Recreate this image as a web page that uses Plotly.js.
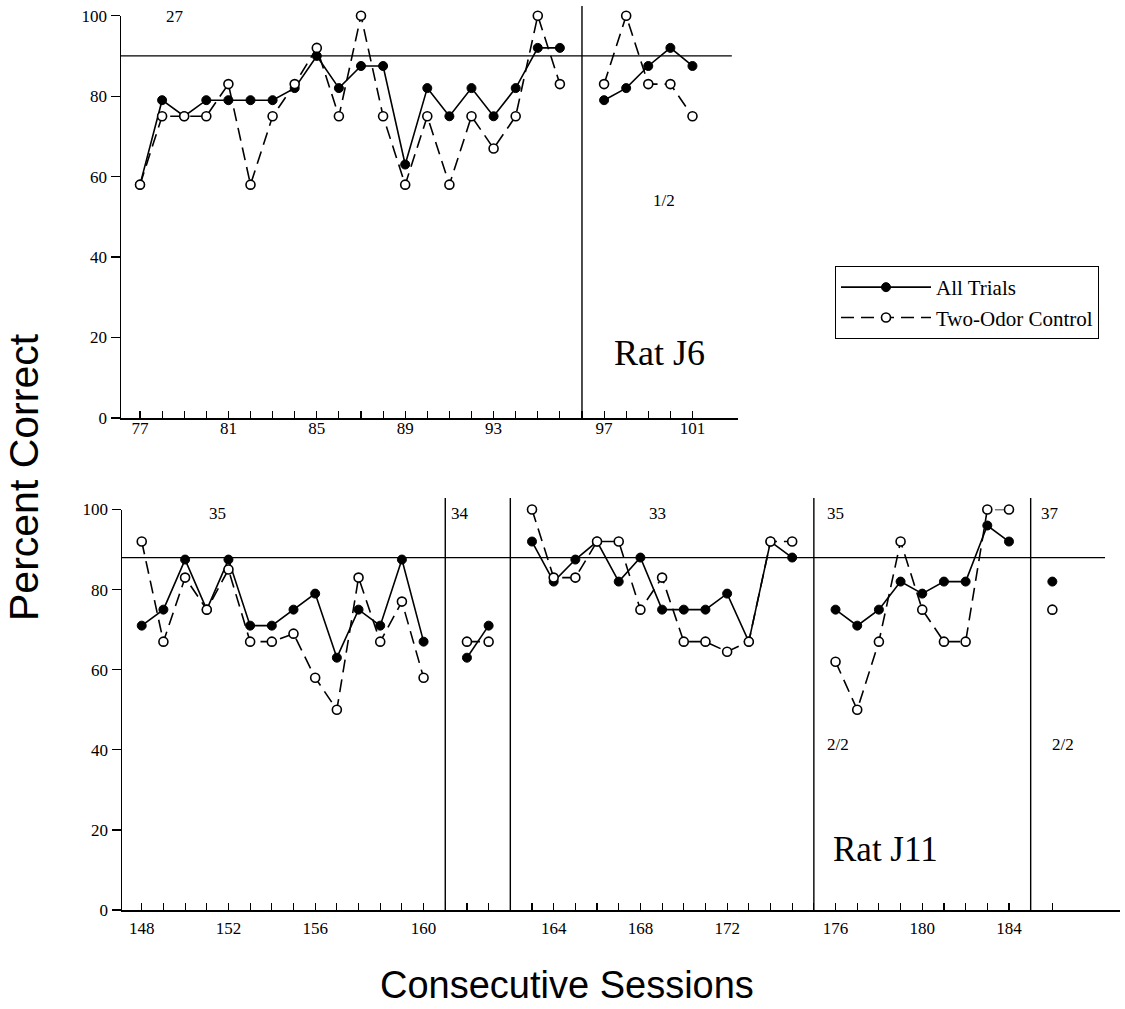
<!DOCTYPE html>
<html>
<head>
<meta charset="utf-8">
<script src="https://cdn.plot.ly/plotly-3.0.1.min.js"></script>
<style>
html,body{margin:0;padding:0;background:#fff;}
#chart{width:1125px;height:1009px;}
</style>
</head>
<body>
<div id="chart"></div>
<script>
// ---------------- Rat J6 (top panel) ----------------
const j6PosA  = [77,78,79,80,81,82,83,84,85,86,87,88,89,90,91,92,93,94,95,96];
const j6AllA  = [58,79,75,79,79,79,79,82,90,82,87.5,87.5,63,82,75,82,75,82,92,92];
const j6CtrlA = [58,75,75,75,83,58,75,83,92,75,100,75,58,75,58,75,67,75,100,83];
const j6PosB  = [98,99,100,101,102];
const j6AllB  = [79,82,87.5,92,87.5];
const j6CtrlB = [83,100,83,83,75];
const j6LabelPos  = [77,81,85,89,93,98,102];
const j6LabelText = ['77','81','85','89','93','97','101'];
const j6Criterion = 90;
const j6Dividers = [97];

// ---------------- Rat J11 (bottom panel) ----------------
const j11PosA  = [148,149,150,151,152,153,154,155,156,157,158,159,160,161];
const j11AllA  = [71,75,87.5,75,87.5,71,71,75,79,63,75,71,87.5,67];
const j11CtrlA = [92,67,83,75,85,67,67,69,58,50,83,67,77,58];
const j11PosB  = [163,164];
const j11AllB  = [63,71];
const j11CtrlB = [67,67];
const j11PosC  = [166,167,168,169,170,171,172,173,174,175,176,177,178];
const j11AllC  = [92,82,87.5,92,82,88,75,75,75,79,67,92,88];
const j11CtrlC = [100,83,83,92,92,75,83,67,67,64.5,67,92,92];
const j11PosD  = [180,181,182,183,184,185,186,187,188];
const j11AllD  = [75,71,75,82,79,82,82,96,92];
const j11CtrlD = [62,50,67,92,75,67,67,100,100];
const j11PosE  = [190];
const j11AllE  = [82];
const j11CtrlE = [75];
const j11LabelPos  = [148,152,156,161,167,171,175,180,184,188];
const j11LabelText = ['148','152','156','160','164','168','172','176','180','184'];
const j11Criterion = 88;
const j11Dividers = [162,165,179,189];

// ---------------- helpers ----------------
function joinSections(xs, ys){
  const x = [], y = [];
  xs.forEach((xa, i) => {
    if (i > 0) { x.push(null); y.push(null); }
    xa.forEach((v, k) => { x.push(v); y.push(ys[i][k]); });
  });
  return {x, y};
}
function ticks(lo, hi, labPos, labText){
  const vals = [], text = [];
  for (let s = lo; s <= hi; s++){
    vals.push(s);
    const k = labPos.indexOf(s);
    text.push(k >= 0 ? labText[k] : '');
  }
  return {vals, text};
}

const SERIF = 'Liberation Serif, Times New Roman, serif';
const SANS  = 'Liberation Sans, Arial, sans-serif';

const allStyle = {
  mode:'lines+markers', cliponaxis:false,
  line:{color:'#000', width:1.6},
  marker:{symbol:'circle', size:9, color:'#000', line:{color:'#000', width:1}}
};
const ctrlStyle = {
  mode:'lines+markers', cliponaxis:false,
  line:{color:'#000', width:1.6, dash:'13px,7px'},
  marker:{symbol:'circle', size:9, color:'#fff', line:{color:'#000', width:1.6}}
};

const j6All  = joinSections([j6PosA, j6PosB], [j6AllA, j6AllB]);
const j6Ctrl = joinSections([j6PosA, j6PosB], [j6CtrlA, j6CtrlB]);
const j11All = joinSections([j11PosA, j11PosB, j11PosC, j11PosD, j11PosE],
                            [j11AllA, j11AllB, j11AllC, j11AllD, j11AllE]);
const j11Ctrl = joinSections([j11PosA, j11PosB, j11PosC, j11PosD, j11PosE],
                             [j11CtrlA, j11CtrlB, j11CtrlC, j11CtrlD, j11CtrlE]);

const traces = [
  Object.assign({name:'All Trials', showlegend:true, xaxis:'x', yaxis:'y', x:j6All.x, y:j6All.y}, allStyle),
  Object.assign({name:'Two-Odor Control', showlegend:true, xaxis:'x', yaxis:'y', x:j6Ctrl.x, y:j6Ctrl.y}, ctrlStyle),
  Object.assign({name:'All Trials', showlegend:false, xaxis:'x2', yaxis:'y2', x:j11All.x, y:j11All.y}, allStyle),
  Object.assign({name:'Two-Odor Control', showlegend:false, xaxis:'x2', yaxis:'y2', x:j11Ctrl.x, y:j11Ctrl.y}, ctrlStyle)
];

const t6  = ticks(77, 102, j6LabelPos, j6LabelText);
const t11 = ticks(148, 190, j11LabelPos, j11LabelText);

const xBase = {
  showgrid:false, zeroline:false, showline:true, linecolor:'#000', linewidth:1.5,
  ticks:'inside', ticklen:7, tickwidth:1.1, tickcolor:'#000', tickmode:'array',
  tickfont:{family:SERIF, size:17, color:'#000'}, fixedrange:true
};
const yBase = {
  showgrid:false, zeroline:false, showline:true, linecolor:'#000', linewidth:1.5,
  ticks:'outside', ticklen:9, tickwidth:1.2, tickcolor:'#000',
  tickmode:'array', tickvals:[0,20,40,60,80,100], ticktext:['0','20','40','60','80','100'],
  tickfont:{family:SERIF, size:17, color:'#000'}, range:[0,100], fixedrange:true
};

const shapes = [];
// criterion lines
shapes.push({type:'line', xref:'x domain', yref:'y', x0:0, x1:0.99, y0:j6Criterion, y1:j6Criterion, line:{color:'#000', width:1.3}});
shapes.push({type:'line', xref:'x2 domain', yref:'y2', x0:0, x1:0.985, y0:j11Criterion, y1:j11Criterion, line:{color:'#000', width:1.3}});
// section dividers
j6Dividers.forEach(d => shapes.push({type:'line', xref:'x', yref:'paper', x0:d, x1:d, y0:0.5857, y1:0.994, line:{color:'#000', width:1.4}}));
j11Dividers.forEach(d => shapes.push({type:'line', xref:'x2', yref:'paper', x0:d, x1:d, y0:0.0981, y1:0.5064, line:{color:'#000', width:1.4}}));

function lab(text, xref, yref, x, y, size, extra){
  return Object.assign({text, xref, yref, x, y, showarrow:false, xanchor:'center', yanchor:'middle',
    font:{family:SERIF, size:size, color:'#000'}}, extra || {});
}

const annotations = [
  lab('27', 'x', 'y', 78.6, 99.7, 17),
  lab('29', 'x', 'y', 102.3, 100.2, 17),
  lab('1/2', 'x', 'y', 100.7, 54, 17),
  lab('Rat J6', 'x', 'y', 100.5, 16.2, 36),
  lab('35', 'x2', 'y2', 151.5, 98.9, 17),
  lab('34', 'x2', 'y2', 162.7, 98.9, 17),
  lab('33', 'x2', 'y2', 171.8, 98.9, 17),
  lab('35', 'x2', 'y2', 180.0, 98.9, 17),
  lab('37', 'x2', 'y2', 189.9, 98.9, 17),
  lab('2/2', 'x2', 'y2', 180.1, 41.2, 17),
  lab('2/2', 'x2', 'y2', 190.5, 41.2, 17),
  lab('Rat J11', 'x2', 'y2', 182.3, 15, 35),
  {text:'Percent Correct', xref:'paper', yref:'paper', x:24/1125, y:(1009-477)/1009, textangle:-90,
   showarrow:false, xanchor:'center', yanchor:'middle', font:{family:SANS, size:41, color:'#000'}},
  {text:'Consecutive Sessions', xref:'paper', yref:'paper', x:567/1125, y:(1009-985)/1009,
   showarrow:false, xanchor:'center', yanchor:'middle', font:{family:SANS, size:38, color:'#000'}}
];

const layout = {
  width:1125, height:1009,
  margin:{l:0, r:0, t:0, b:0},
  paper_bgcolor:'#fff', plot_bgcolor:'#fff',
  showlegend:true,
  legend:{x:835/1125, y:(1009-266)/1009, xanchor:'left', yanchor:'top',
          bordercolor:'#000', borderwidth:1, bgcolor:'#fff', itemwidth:90, tracegroupgap:0,
          entrywidth:300, entrywidthmode:'pixels',
          font:{family:SERIF, size:21, color:'#000'}},
  xaxis: Object.assign({}, xBase, {domain:[121/1125, 738/1125], range:[76.14, 104.06], anchor:'y', tickvals:t6.vals, ticktext:t6.text, ticklabelstandoff:-6}),
  yaxis: Object.assign({}, yBase, {domain:[(1009-418)/1009, (1009-15.7)/1009], anchor:'x'}),
  xaxis2: Object.assign({}, xBase, {domain:[122/1125, 1120/1125], range:[147.09, 193.12], anchor:'y2', tickvals:t11.vals, ticktext:t11.text, ticklabelstandoff:2}),
  yaxis2: Object.assign({}, yBase, {domain:[(1009-910)/1009, (1009-509.5)/1009], anchor:'x2'}),
  shapes, annotations
};

Plotly.newPlot('chart', traces, layout, {staticPlot:true, displayModeBar:false});
</script>
</body>
</html>
